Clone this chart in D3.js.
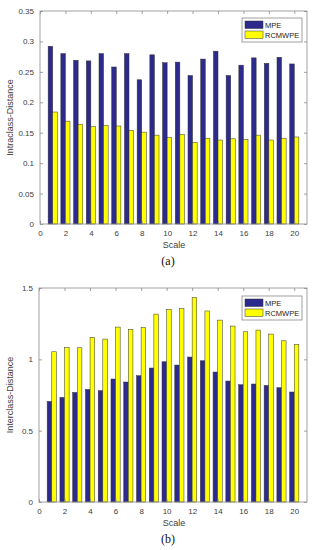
<!DOCTYPE html>
<html><head><meta charset="utf-8">
<script src="https://cdn.jsdelivr.net/npm/d3@7/dist/d3.min.js"></script>
<style>body{margin:0;background:#fff;}svg{display:block;font-family:"Liberation Sans",Arial,sans-serif;}</style>
</head><body>
<script>
const scales = d3.range(1, 21);
const seriesNames = ["MPE", "RCMWPE"];
const intraMPE = [0.292,0.280,0.269,0.268,0.280,0.258,0.280,0.237,0.278,0.265,0.266,0.244,0.271,0.284,0.244,0.261,0.273,0.264,0.274,0.263];
const intraRCMWPE = [0.184,0.169,0.164,0.160,0.162,0.161,0.154,0.151,0.146,0.142,0.147,0.134,0.141,0.138,0.140,0.139,0.146,0.138,0.141,0.143];
const interMPE = [0.705,0.733,0.768,0.789,0.780,0.862,0.841,0.885,0.939,0.983,0.960,1.016,0.990,0.911,0.848,0.822,0.827,0.817,0.801,0.771];
const interRCMWPE = [1.053,1.084,1.081,1.154,1.142,1.226,1.210,1.224,1.317,1.350,1.355,1.434,1.339,1.275,1.233,1.193,1.205,1.177,1.130,1.104];
const xTicks = [0,2,4,6,8,10,12,14,16,18,20];
const intraYTicks = [0,0.05,0.1,0.15,0.2,0.25,0.3,0.35];
const interYTicks = [0,0.5,1,1.5];
const colors = ["#2d2a8e", "#ffff00"];

const W = 316, H = 550;
const svg = d3.select("body").append("svg").attr("width", W).attr("height", H);

function panel(cfg) {
  const {x0, x1, y0, y1, yMax, yTicks, yLabel, series, caption, capY, legTop} = cfg;
  const g = svg.append("g");
  const x = d3.scaleLinear().domain([0, 21]).range([x0, x1]);
  const y = d3.scaleLinear().domain([0, yMax]).range([y1, y0]);
  const bw = (x(1) - x(0)) * 0.36;
  const axisColor = "#8a8a8a", textColor = "#404040";

  series.forEach((vals, si) => {
    g.append("g").selectAll("rect").data(vals).enter().append("rect")
      .attr("x", (d, i) => x(scales[i]) + (si === 0 ? -bw : 0))
      .attr("y", d => y(d))
      .attr("width", bw)
      .attr("height", d => y(0) - y(d))
      .attr("fill", colors[si])
      .attr("stroke", "#333")
      .attr("stroke-width", 0.5);
  });

  g.append("rect").attr("x", x0).attr("y", y0).attr("width", x1 - x0).attr("height", y1 - y0)
    .attr("fill", "none").attr("stroke", axisColor).attr("stroke-width", 0.8);

  const xa = g.append("g").attr("transform", `translate(0,${y1})`)
    .call(d3.axisBottom(x).tickValues(xTicks).tickSize(-3).tickPadding(6).tickFormat(d3.format("d")));
  const xt = g.append("g").attr("transform", `translate(0,${y0})`)
    .call(d3.axisTop(x).tickValues(xTicks).tickSize(-3).tickFormat(""));
  const ya = g.append("g").attr("transform", `translate(${x0},0)`)
    .call(d3.axisLeft(y).tickValues(yTicks).tickSize(-3).tickPadding(6).tickFormat(d => String(d)));
  const yr = g.append("g").attr("transform", `translate(${x1},0)`)
    .call(d3.axisRight(y).tickValues(yTicks).tickSize(-3).tickFormat(""));
  [xa, xt, ya, yr].forEach(a => {
    a.select(".domain").remove();
    a.selectAll("line").attr("stroke", axisColor).attr("stroke-width", 0.8);
    a.selectAll("text").attr("fill", textColor).attr("font-size", 8).attr("font-family", "Liberation Sans, Arial, sans-serif");
  });

  g.append("text").attr("x", 174).attr("y", y1 + 24).attr("text-anchor", "middle")
    .attr("font-size", 9).attr("fill", textColor).text("Scale");
  g.append("text").attr("transform", `translate(13,${(y0 + y1) / 2}) rotate(-90)`).attr("text-anchor", "middle")
    .attr("font-size", 9).attr("fill", textColor).text(yLabel);
  g.append("text").attr("x", 168).attr("y", capY).attr("text-anchor", "middle")
    .attr("font-size", 12).attr("font-family", "Liberation Serif, Times New Roman, serif").attr("fill", "#111").text(caption);

  const lx = 242, lw = 60;
  const leg = g.append("g");
  leg.append("rect").attr("x", lx).attr("y", legTop).attr("width", lw).attr("height", 24)
    .attr("fill", "#fff").attr("stroke", "#777").attr("stroke-width", 0.7);
  seriesNames.forEach((n, i) => {
    const ry = legTop + 3 + i * 10;
    leg.append("rect").attr("x", lx + 3).attr("y", ry).attr("width", 18).attr("height", 7.5)
      .attr("fill", colors[i]).attr("stroke", "#333").attr("stroke-width", 0.5);
    leg.append("text").attr("x", lx + 23).attr("y", ry + 7).attr("font-size", 7.5).attr("fill", "#222").text(n);
  });
}

panel({x0: 40, x1: 307, y0: 11, y1: 224, yMax: 0.35, yTicks: intraYTicks,
  yLabel: "Intraclass-Distance", series: [intraMPE, intraRCMWPE], caption: "(a)", capY: 265, legTop: 18});
panel({x0: 39, x1: 307, y0: 288, y1: 502, yMax: 1.5, yTicks: interYTicks,
  yLabel: "Interclass-Distance", series: [interMPE, interRCMWPE], caption: "(b)", capY: 543, legTop: 296});
</script>
</body></html>
